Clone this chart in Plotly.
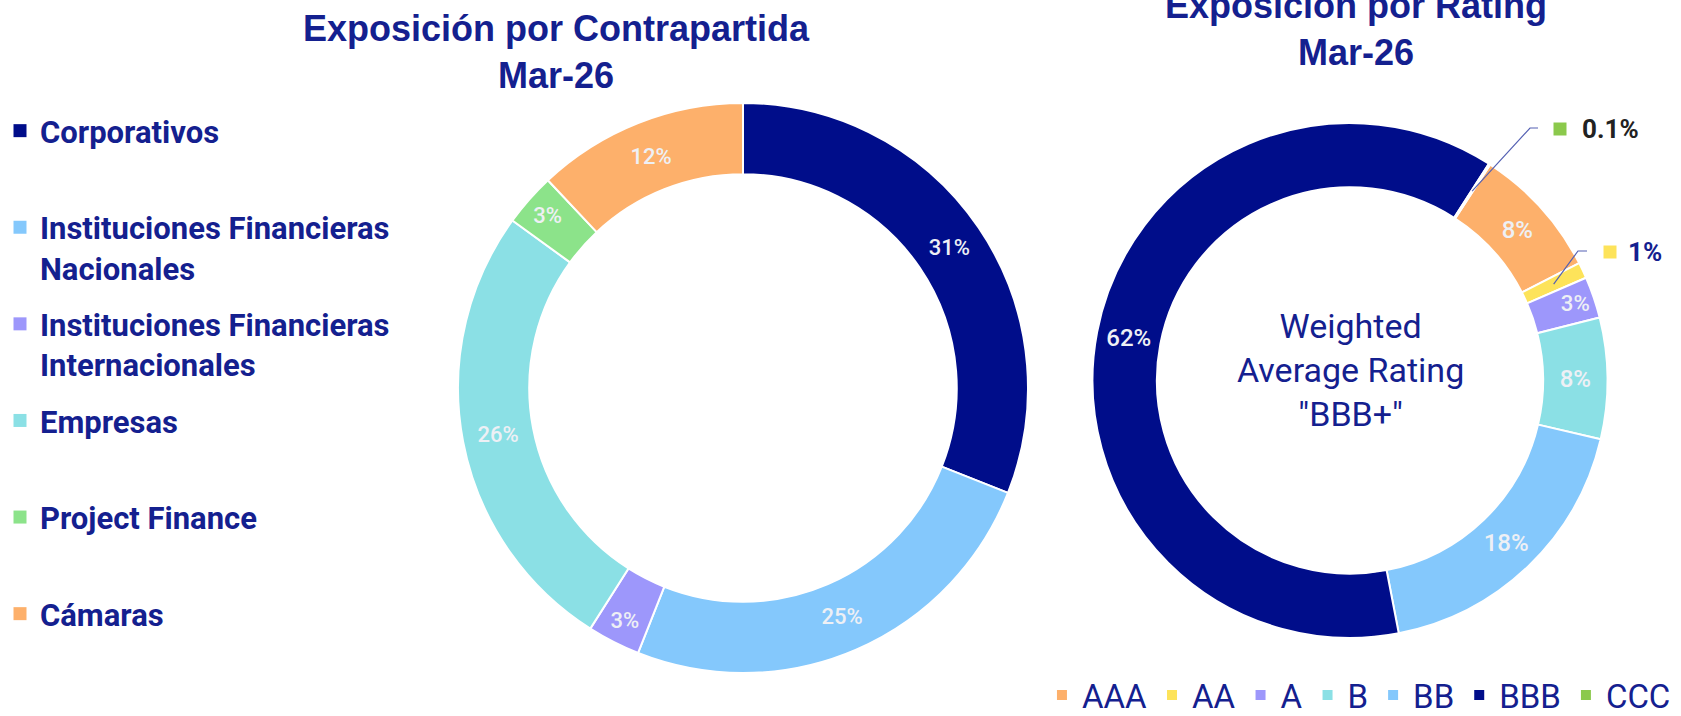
import math
import plotly.graph_objects as go

W, H = 1681, 716

# ---------------- data ----------------
cp_labels = ["Corporativos", "Instituciones Financieras Nacionales",
             "Instituciones Financieras Internacionales", "Empresas",
             "Project Finance", "Cámaras"]
cp_legend = ["Corporativos", "Instituciones Financieras<br>Nacionales",
             "Instituciones Financieras<br>Internacionales", "Empresas",
             "Project Finance", "Cámaras"]
cp_values = [31, 25, 3, 26, 3, 12]
cp_colors = ["#000d8a", "#84c8fc", "#9d97fb", "#8be0e5", "#8ce38a", "#fdb06b"]

rt_labels = ["AAA", "AA", "A", "B", "BB", "BBB", "CCC"]
rt_values = [8.3, 1.0, 2.6, 7.6, 18.3, 62.1, 0.1]
rt_colors = ["#fdb06b", "#fde35a", "#9d97fb", "#8be0e5", "#84c8fc", "#000d8a", "#8bc94c"]

NAVY_TXT = "#14208f"
SLICE_TXT = "#eef0f5"

def X(px):
    return px / W

def Y(py):
    return 1 - py / H

# donut geometry (pixels)
L_CX, L_CY, L_R = 743, 388, 285
R_CX, R_CY, R_R = 1350, 380.5, 257.5
HOLE = 0.75
R_ROT = 33

fig = go.Figure()

fig.add_trace(go.Pie(
    labels=cp_labels, values=cp_values, sort=False, direction="clockwise",
    rotation=0, hole=HOLE,
    marker=dict(colors=cp_colors, line=dict(color="white", width=2)),
    texttemplate="%{percent:.0%}", textposition="inside",
    insidetextorientation="horizontal",
    textfont=dict(family="Roboto", size=22, color=SLICE_TXT, weight=500),
    domain=dict(x=[X(L_CX - L_R), X(L_CX + L_R)], y=[Y(L_CY + L_R), Y(L_CY - L_R)]),
    showlegend=False, hoverinfo="label+percent",
))

rt_text = [f"{v:.0f}%" if v >= 2 else "" for v in rt_values]
fig.add_trace(go.Pie(
    labels=rt_labels, values=rt_values, sort=False,
    direction="clockwise", rotation=R_ROT, hole=HOLE,
    marker=dict(colors=rt_colors, line=dict(color="white", width=2)),
    text=rt_text, textinfo="text", textposition="inside",
    insidetextorientation="horizontal",
    textfont=dict(family="Roboto", size=24, color=SLICE_TXT, weight=500),
    domain=dict(x=[X(R_CX - R_R), X(R_CX + R_R)], y=[Y(R_CY + R_R), Y(R_CY - R_R)]),
    legend="legend2", showlegend=True, hoverinfo="label+percent",
))

# legend proxies for the left donut (one group each so gaps can be set)
for lab, col in zip(cp_legend, cp_colors):
    txt = lab if "<br>" in lab else lab + "<br>\u00a0"
    fig.add_trace(go.Scatter(
        x=[None], y=[None], mode="markers", name=txt, legendgroup=lab,
        marker=dict(symbol="square", size=13, color=col),
        legend="legend", showlegend=True, hoverinfo="skip",
    ))

# ---------------- titles & center text ----------------
title_font = dict(family="Liberation Sans Narrow, Arial Narrow, Liberation Sans", size=36, color=NAVY_TXT)
fig.add_annotation(x=X(556), y=Y(52), xref="paper", yref="paper",
                   text="<b>Exposición por Contrapartida<br>Mar-26</b>",
                   showarrow=False, font=title_font, align="center",
                   xanchor="center", yanchor="middle")
fig.add_annotation(x=X(1356), y=Y(29), xref="paper", yref="paper",
                   text="<b>Exposición por Rating<br>Mar-26</b>",
                   showarrow=False, font=title_font, align="center",
                   xanchor="center", yanchor="middle")
fig.add_annotation(x=X(R_CX), y=Y(370), xref="paper", yref="paper",
                   text="Weighted<br>Average Rating<br>\"BBB+\"",
                   showarrow=False, font=dict(family="Roboto", size=34, color=NAVY_TXT),
                   align="center", xanchor="center", yanchor="middle")

# ---------------- leader lines for the small slices ----------------
total = sum(rt_values)
def mid_angle(i):
    before = sum(rt_values[:i])
    return R_ROT + (before + rt_values[i] / 2) / total * 360

def ring_point(i):
    a = math.radians(mid_angle(i))
    rr = R_R * (1 + HOLE) / 2
    return R_CX + rr * math.sin(a), R_CY - rr * math.cos(a)

callouts = [
    # (index, elbow px, end px, square px, text x px, text colour, decimals)
    (6, (1530, 128), 1538, (1560, 129), 1580, "#222222", 1),
    (1, (1578, 251), 1587, (1610, 252), 1626, NAVY_TXT, 0),
]
for idx, elbow, endx, sq, tx, tcol, dec in callouts:
    ax, ay = ring_point(idx)
    fig.add_shape(type="path", xref="paper", yref="paper",
                  path=f"M {X(ax)},{Y(ay)} L {X(elbow[0])},{Y(elbow[1])} L {X(endx)},{Y(elbow[1])}",
                  line=dict(color="#5561b3", width=1.2))
    s = 6.5
    fig.add_shape(type="rect", xref="paper", yref="paper",
                  x0=X(sq[0] - s), x1=X(sq[0] + s), y0=Y(sq[1] + s), y1=Y(sq[1] - s),
                  fillcolor=rt_colors[idx], line=dict(width=0))
    fig.add_annotation(x=X(tx), y=Y(sq[1]), xref="paper", yref="paper",
                       text=f"<b>{rt_values[idx]:.{dec}f}%</b>", showarrow=False,
                       font=dict(family="Roboto", size=26, color=tcol),
                       xanchor="left", yanchor="middle")

fig.update_layout(
    width=W, height=H, margin=dict(l=0, r=0, t=0, b=0, autoexpand=False),
    paper_bgcolor="white", plot_bgcolor="white",
    xaxis=dict(visible=False), yaxis=dict(visible=False),
    legend=dict(x=0, xanchor="left", y=Y(104), yanchor="top",
                traceorder="grouped", tracegroupgap=13, valign="top",
                font=dict(family="Roboto", size=31, color=NAVY_TXT, weight="bold"),
                bgcolor="rgba(0,0,0,0)"),
    legend2=dict(orientation="h", x=0.997, xanchor="right", y=-7 / H, yanchor="bottom",
                 font=dict(family="Roboto", size=33, color=NAVY_TXT),
                 bgcolor="rgba(0,0,0,0)"),
)

fig.write_html("out.html", config={"displayModeBar": False},
               post_script="document.body.style.margin='0';")
